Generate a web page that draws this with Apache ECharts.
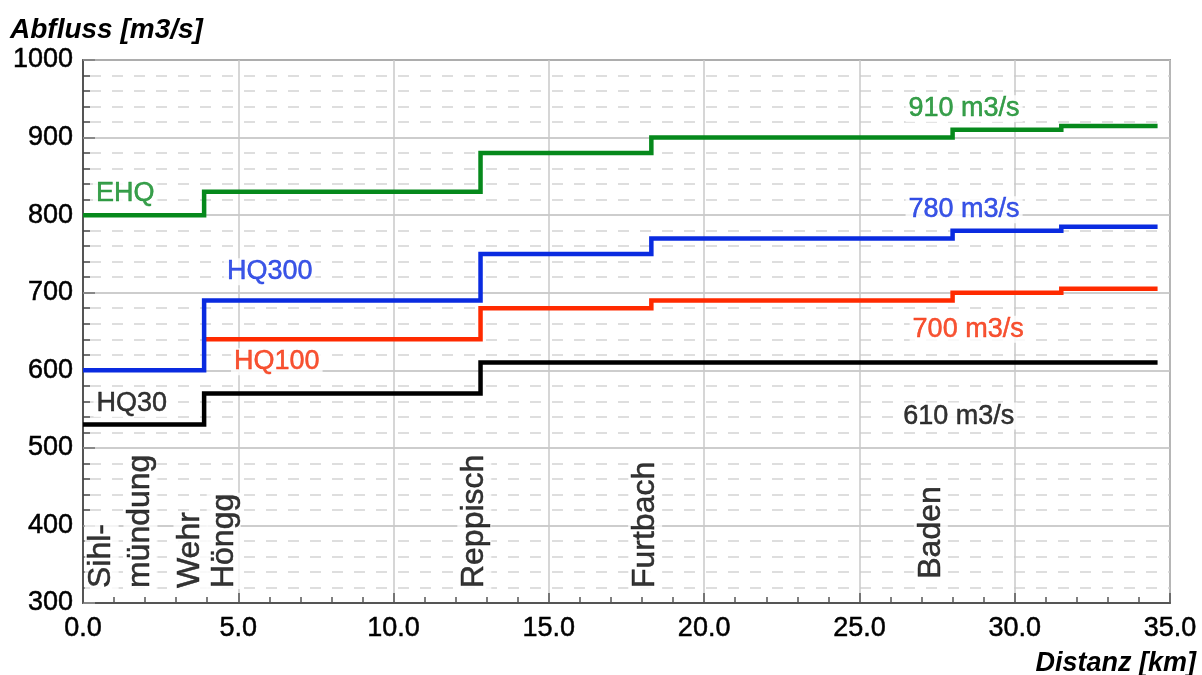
<!DOCTYPE html>
<html>
<head>
<meta charset="utf-8">
<script src="https://cdn.jsdelivr.net/npm/echarts@6/dist/echarts.min.js"></script>
<style>
  html, body { margin: 0; padding: 0; background: #fff; }
  #chart { width: 1202px; height: 675px; }
</style>
</head>
<body>
<div id="chart"></div>
<script>
// Distance along the river where the design discharge changes [km]
const distanceKm = [0, 3.9, 12.8, 18.3, 28.0, 31.5, 34.6];

// Design discharges per reach [m3/s]; each value holds until the next break
const hq30  = [530, 570, 610, 610, 610, 610, 610];
const hq100 = [null, 640, 680, 690, 700, 705, 705];
const hq300 = [600, 690, 750, 770, 780, 785, 785];
const ehq   = [800, 830, 880, 900, 910, 915, 915];

const seriesNames = ['HQ30', 'HQ100', 'HQ300', 'EHQ'];
const stationNames = ['Sihl-', 'mündung', 'Wehr', 'Höngg', 'Reppisch', 'Furtbach', 'Baden'];

const FONT = "'Liberation Sans', Arial, Helvetica, sans-serif";
const colors = { HQ30: '#000000', HQ100: '#ff2a00', HQ300: '#0a2be0', EHQ: '#06891c' };
const textColors = { HQ30: '#000000', HQ100: '#f52800', HQ300: '#0a2be0', EHQ: '#07871f' };

function stepPoints(values) {
  return distanceKm.map((x, i) => [x, values[i]]).filter(p => p[1] != null);
}

function stepSeries(name, values, z) {
  return {
    name: name,
    type: 'line',
    step: 'end',
    symbol: 'none',
    silent: true,
    z: z,
    data: stepPoints(values),
    lineStyle: { color: colors[name], width: 4.5, join: 'miter', cap: 'butt' }
  };
}

// slightly heavier glyphs
function heavy(color) {
  return { color: color, textBorderColor: color, textBorderWidth: 0.5 };
}

function buildOption() {
  const curves = { HQ30: hq30, HQ100: hq100, HQ300: hq300, EHQ: ehq };

  // Curve names and the discharge of the reach next to Baden
  const curveLabels = [
    { at: [1.36, 828], text: seriesNames[3], color: textColors.EHQ },
    { at: [6.01, 727], text: seriesNames[2], color: textColors.HQ300 },
    { at: [6.24, 611], text: seriesNames[1], color: textColors.HQ100 },
    { at: [1.57, 557], text: seriesNames[0], color: textColors.HQ30 },
    { at: [28.37, 937], text: ehq[4] + ' m3/s', color: textColors.EHQ },
    { at: [28.37, 807], text: hq300[4] + ' m3/s', color: textColors.HQ300 },
    { at: [28.5, 653], text: hq100[4] + ' m3/s', color: textColors.HQ100 },
    { at: [28.2, 541], text: hq30[4] + ' m3/s', color: textColors.HQ30 }
  ];

  // Station names written upwards from the bottom of the plot
  const stationAt = [[0.6, 318], [1.85, 318], [3.46, 318], [4.53, 318], [12.6, 318], [18.1, 318], [27.3, 330]];

  const labelSeries = {
    type: 'scatter',
    symbolSize: 0,
    silent: true,
    z: 10,
    data: curveLabels.map(l => ({
      value: l.at,
      label: Object.assign({
        show: true,
        position: 'inside',
        formatter: l.text,
        fontSize: 27,
        fontFamily: FONT,
        align: 'center',
        verticalAlign: 'middle',
        backgroundColor: '#fff',
        padding: [0, 3]
      }, heavy(l.color))
    }))
  };

  const stationSeries = {
    type: 'scatter',
    symbolSize: 0,
    silent: true,
    z: 9,
    data: stationNames.map((name, i) => ({
      value: stationAt[i],
      label: Object.assign({
        show: true,
        position: 'inside',
        formatter: name,
        rotate: 90,
        fontSize: 32,
        fontFamily: FONT,
        align: 'left',
        verticalAlign: 'middle',
        backgroundColor: '#fff',
        padding: [1, 1]
      }, heavy('#000'))
    }))
  };

  return {
    animation: false,
    backgroundColor: '#fff',
    grid: {
      left: 83, right: 32, top: 60, bottom: 72,
      show: true, borderColor: '#555', borderWidth: 1.5, backgroundColor: 'transparent'
    },
    xAxis: {
      type: 'value', min: 0, max: 35, interval: 5,
      axisLine: { show: true, onZero: false, lineStyle: { color: '#555', width: 2 } },
      axisTick: { show: true, inside: true, length: 10, lineStyle: { color: '#555', width: 1.5 } },
      minorTick: { show: true, splitNumber: 5, length: 6, lineStyle: { color: '#555', width: 1.5 } },
      splitLine: { show: true, lineStyle: { color: '#c8c8c8', width: 1.5 } },
      axisLabel: Object.assign({ formatter: v => v.toFixed(1), fontSize: 27, fontFamily: FONT, margin: 12 }, heavy('#000'))
    },
    yAxis: {
      type: 'value', min: 300, max: 1000, interval: 100,
      axisLine: { show: true, lineStyle: { color: '#555', width: 2 } },
      axisTick: { show: true, inside: true, length: 12, lineStyle: { color: '#888', width: 2 } },
      minorTick: { show: true, splitNumber: 5, length: 7, lineStyle: { color: '#444', width: 1.5 } },
      splitLine: { show: true, lineStyle: { color: '#bdbdbd', width: 1.5 } },
      minorSplitLine: { show: true, lineStyle: { color: '#d4d4d4', width: 1.5, type: [11, 11], dashOffset: 15 } },
      axisLabel: Object.assign({ formatter: v => String(v), fontSize: 27, fontFamily: FONT, margin: 10 }, heavy('#000'))
    },
    graphic: [
      {
        type: 'text', left: 10, top: 16,
        style: { text: 'Abfluss [m3/s]', font: 'italic bold 28px ' + FONT, fill: '#000' }
      },
      {
        type: 'text', right: 6, top: 650,
        style: { text: 'Distanz [km]', font: 'italic bold 27px ' + FONT, fill: '#000' }
      }
    ],
    series: [
      stepSeries('HQ30', curves.HQ30, 3),
      stepSeries('HQ100', curves.HQ100, 4),
      stepSeries('HQ300', curves.HQ300, 5),
      stepSeries('EHQ', curves.EHQ, 6),
      stationSeries,
      labelSeries
    ]
  };
}

const chart = echarts.init(document.getElementById('chart'), null, { renderer: 'canvas' });
chart.setOption(buildOption());
</script>
</body>
</html>
